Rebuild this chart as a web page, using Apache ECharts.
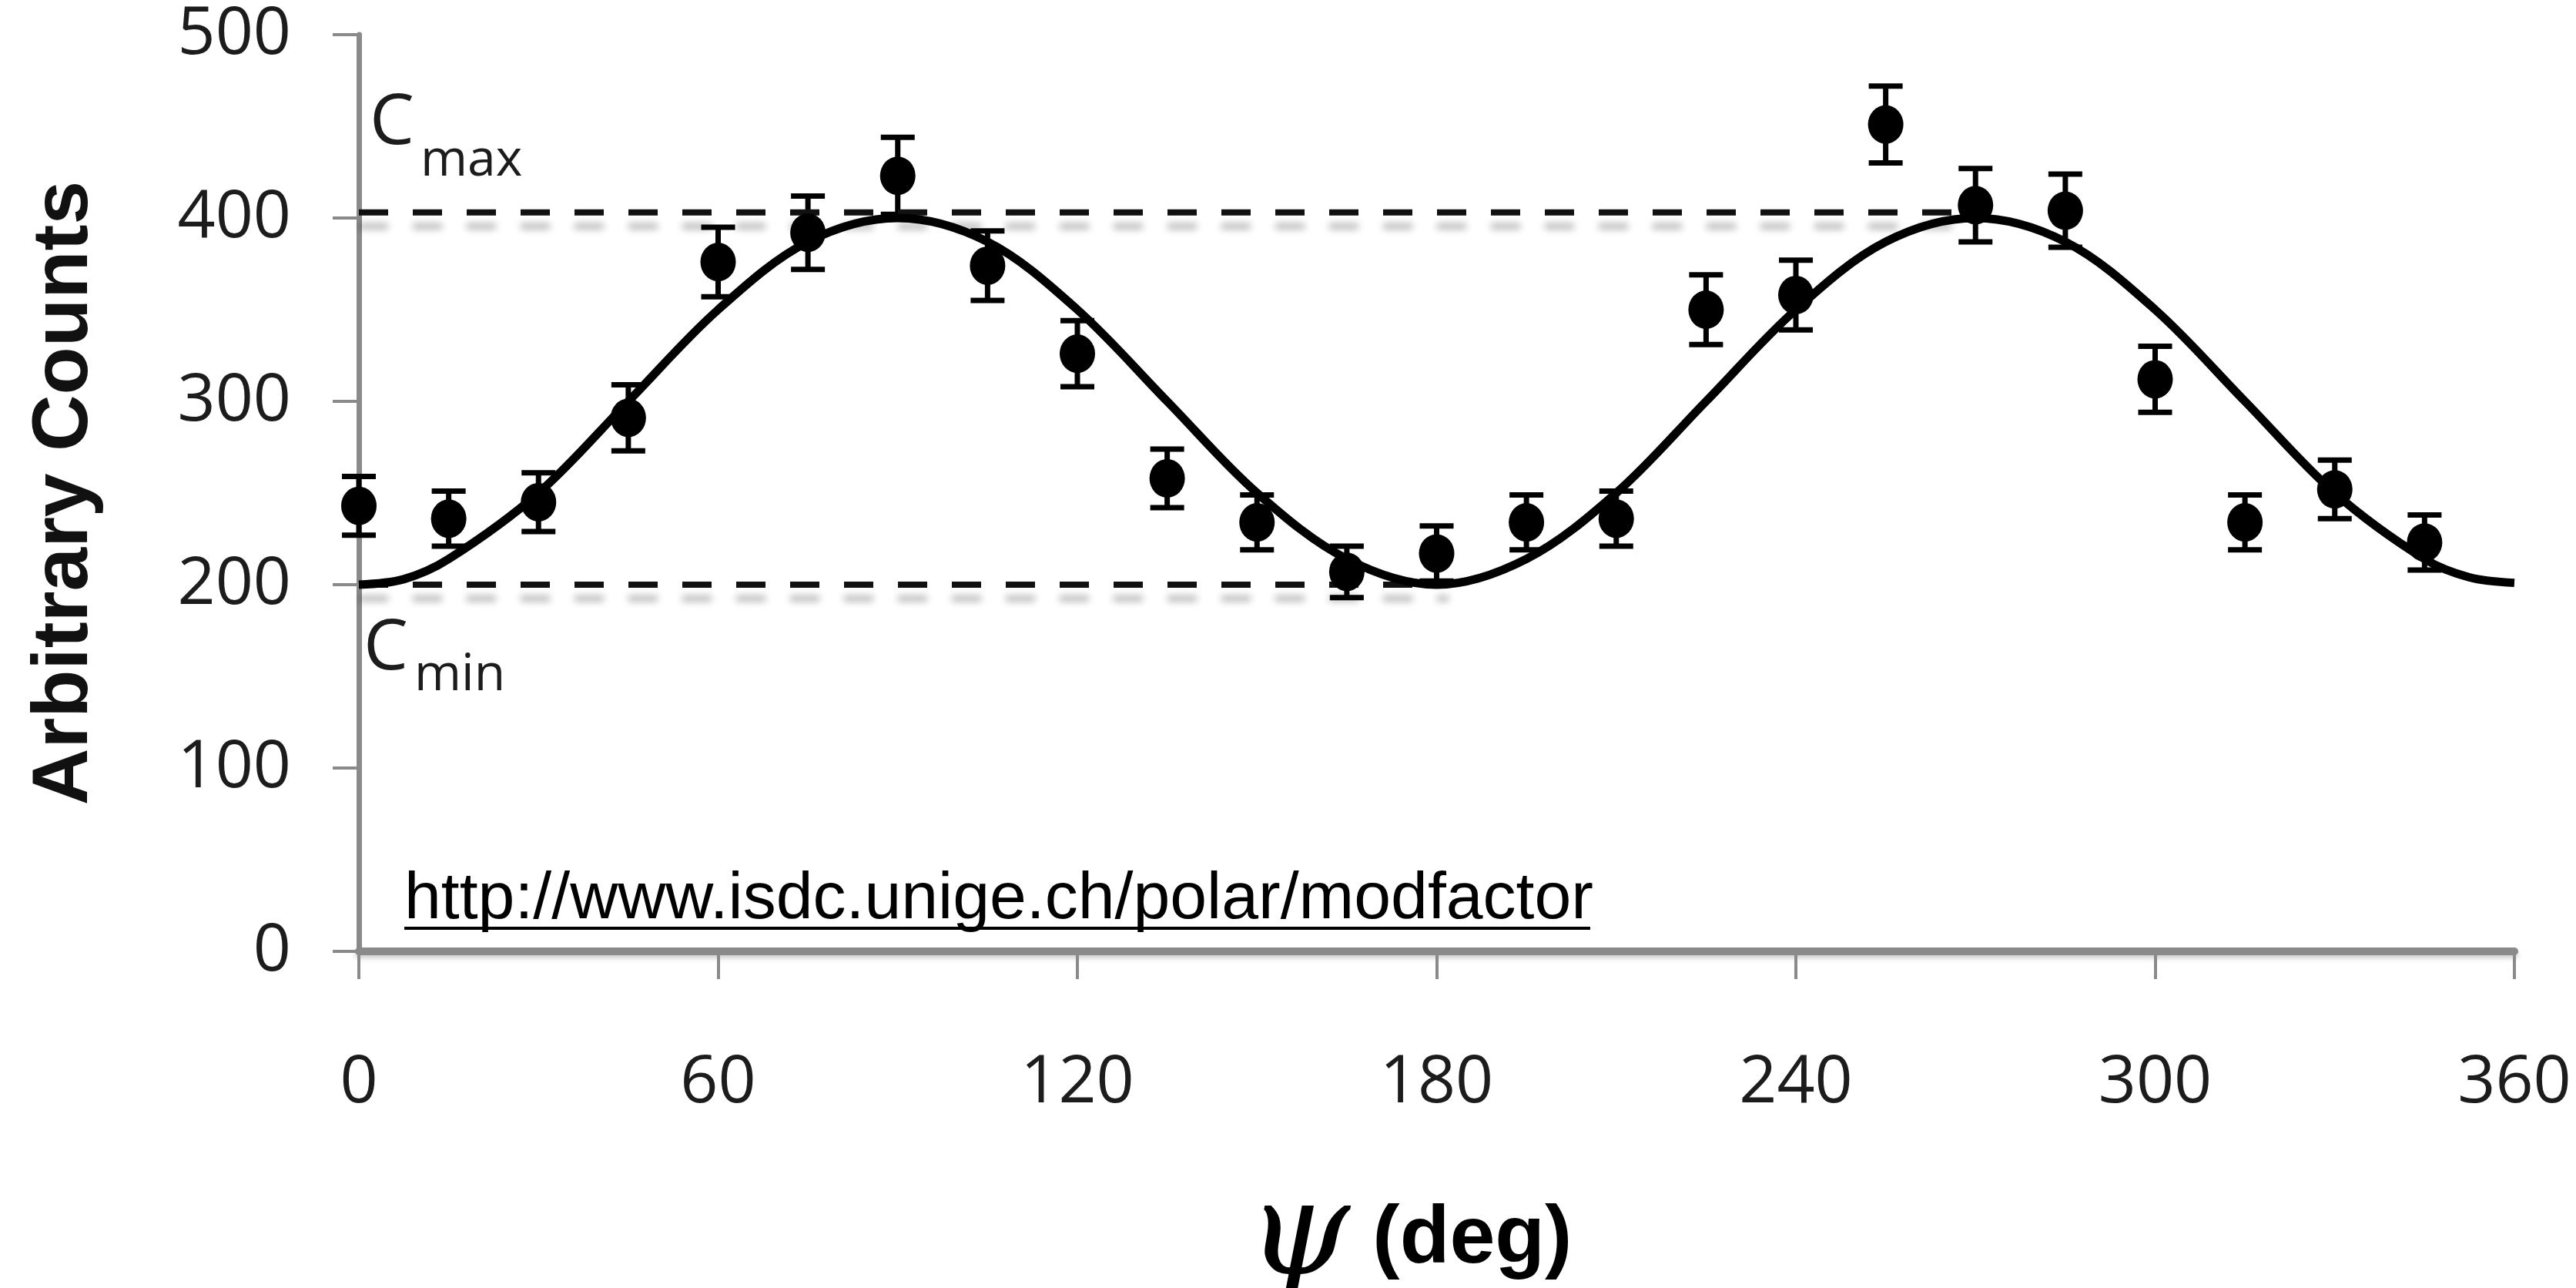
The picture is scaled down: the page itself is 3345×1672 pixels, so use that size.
<!DOCTYPE html>
<html>
<head>
<meta charset="utf-8">
<script src="https://cdn.jsdelivr.net/npm/echarts@6/dist/echarts.min.js"></script>
<style>
  html, body { margin: 0; padding: 0; background: #fff; }
  #chart { width: 3345px; height: 1672px; }
</style>
</head>
<body>
<div id="chart"></div>
<script>
// measured counts vs polarisation angle
const psiDeg = [0, 15, 30, 45, 60, 75, 90, 105, 120, 135, 150, 165, 180, 195, 210, 225, 240, 255, 270, 285, 300, 315, 330, 345];
const counts = [243, 236, 245, 291, 376, 392, 423, 374, 326, 258, 234, 207, 217, 234, 236, 350, 358, 451, 407, 404, 312, 234, 252, 223];
const countErr = [16, 15, 16, 18, 19, 20, 21, 19, 18, 16, 15, 14, 15, 15, 15, 19, 19, 21, 20, 20, 18, 15, 16, 15];

// fitted curve
const fitPsi = [0, 7.5, 15, 30, 45, 60, 75, 90, 105, 120, 135, 150, 165, 180, 195, 210, 225, 240, 255, 270, 285, 300, 315, 330, 345, 352.5, 360];
const fitCounts = [200, 203, 214, 250, 300, 350, 387, 400, 387, 350, 300, 250, 214, 200, 214, 250, 300, 350, 387, 400, 387, 350, 300, 250, 214, 204, 201];

// dashed Cmax / Cmin levels
const cMaxLine = [[0, 403], [266, 403]];
const cMinLine = [[0, 200], [182, 200]];

const axisGrey = '#8a8a8a';
const textCol = '#1c1c1c';

const chart = echarts.init(document.getElementById('chart'));

const dashStyle = {
  color: '#111',
  width: 8,
  type: [38, 32],
  cap: 'butt',
  shadowColor: 'rgba(0,0,0,0.28)',
  shadowBlur: 10,
  shadowOffsetY: 18
};

const option = {
  animation: false,
  backgroundColor: '#fff',
  grid: { left: 466, right: 80, top: 45, bottom: 437, outerBoundsMode: 'none' },
  xAxis: {
    type: 'value',
    min: 0,
    max: 360,
    interval: 60,
    name: '{psi|ψ}{deg| (deg)}',
    nameLocation: 'middle',
    nameGap: 300,
    nameTextStyle: {
      padding: [0, 70, 0, 0],
      rich: {
        psi: { fontFamily: 'DejaVu Serif', fontStyle: 'italic', fontSize: 170, color: '#000', lineHeight: 150 },
        deg: { fontFamily: 'Liberation Sans', fontWeight: 'bold', fontSize: 106, color: '#000', lineHeight: 150 }
      }
    },
    axisLine: { lineStyle: { color: axisGrey, width: 10, shadowColor: 'rgba(0,0,0,0.2)', shadowBlur: 6, shadowOffsetY: 4 } },
    axisTick: { show: true, length: 36, lineStyle: { color: axisGrey, width: 4 } },
    axisLabel: { margin: 128, fontSize: 86, fontFamily: 'Open Sans', color: textCol },
    splitLine: { show: false }
  },
  yAxis: {
    type: 'value',
    min: 0,
    max: 500,
    interval: 100,
    name: 'Arbitrary Counts',
    nameLocation: 'middle',
    nameGap: 330,
    nameTextStyle: { fontFamily: 'Liberation Sans', fontWeight: 'bold', fontSize: 102, color: '#111' },
    axisLine: { show: true, lineStyle: { color: axisGrey, width: 7 } },
    axisTick: { show: true, length: 34, lineStyle: { color: axisGrey, width: 4 } },
    axisLabel: { margin: 88, fontSize: 86, fontFamily: 'Open Sans', color: textCol },
    splitLine: { show: false }
  },
  graphic: [
    { type: 'text', left: 480, top: 163 - 48, style: { text: 'C', font: '92px "Open Sans"', fill: textCol } },
    { type: 'text', left: 546, top: 222 - 46, style: { text: 'max', font: '66px "Open Sans"', fill: textCol } },
    { type: 'text', left: 472, top: 845 - 48, style: { text: 'C', font: '92px "Open Sans"', fill: textCol } },
    { type: 'text', left: 538, top: 890 - 46, style: { text: 'min', font: '66px "Open Sans"', fill: textCol } },
    { type: 'text', left: 525, top: 1125, style: { text: 'http://www.isdc.unige.ch/polar/modfactor', font: '86px "Liberation Sans"', fill: '#000' } },
    { type: 'line', shape: { x1: 525, y1: 1205, x2: 2065, y2: 1205 }, style: { stroke: '#000', lineWidth: 4 } }
  ],
  series: [
    {
      type: 'line',
      data: cMaxLine,
      showSymbol: false,
      lineStyle: dashStyle,
      silent: true
    },
    {
      type: 'line',
      data: cMinLine,
      showSymbol: false,
      lineStyle: dashStyle,
      silent: true
    },
    {
      type: 'line',
      data: fitPsi.map((p, i) => [p, fitCounts[i]]),
      smooth: 0.34,
      showSymbol: false,
      lineStyle: { color: '#000', width: 11 }
    },
    {
      type: 'custom',
      data: psiDeg.map((p, i) => [p, counts[i], countErr[i]]),
      renderItem: function (params, api) {
        const x = api.value(0);
        const y = api.value(1);
        const e = api.value(2);
        const top = api.coord([x, y + e]);
        const bot = api.coord([x, y - e]);
        const hw = 22;
        const st = { stroke: '#000', lineWidth: 7 };
        return {
          type: 'group',
          children: [
            { type: 'line', shape: { x1: top[0], y1: top[1], x2: bot[0], y2: bot[1] }, style: st },
            { type: 'line', shape: { x1: top[0] - hw, y1: top[1], x2: top[0] + hw, y2: top[1] }, style: st },
            { type: 'line', shape: { x1: bot[0] - hw, y1: bot[1], x2: bot[0] + hw, y2: bot[1] }, style: st }
          ]
        };
      },
      z: 3
    },
    {
      type: 'scatter',
      data: psiDeg.map((p, i) => [p, counts[i]]),
      symbol: 'circle',
      symbolSize: [46, 50],
      itemStyle: { color: '#000', opacity: 1 },
      z: 4
    }
  ]
};

chart.setOption(option);
</script>
</body>
</html>
